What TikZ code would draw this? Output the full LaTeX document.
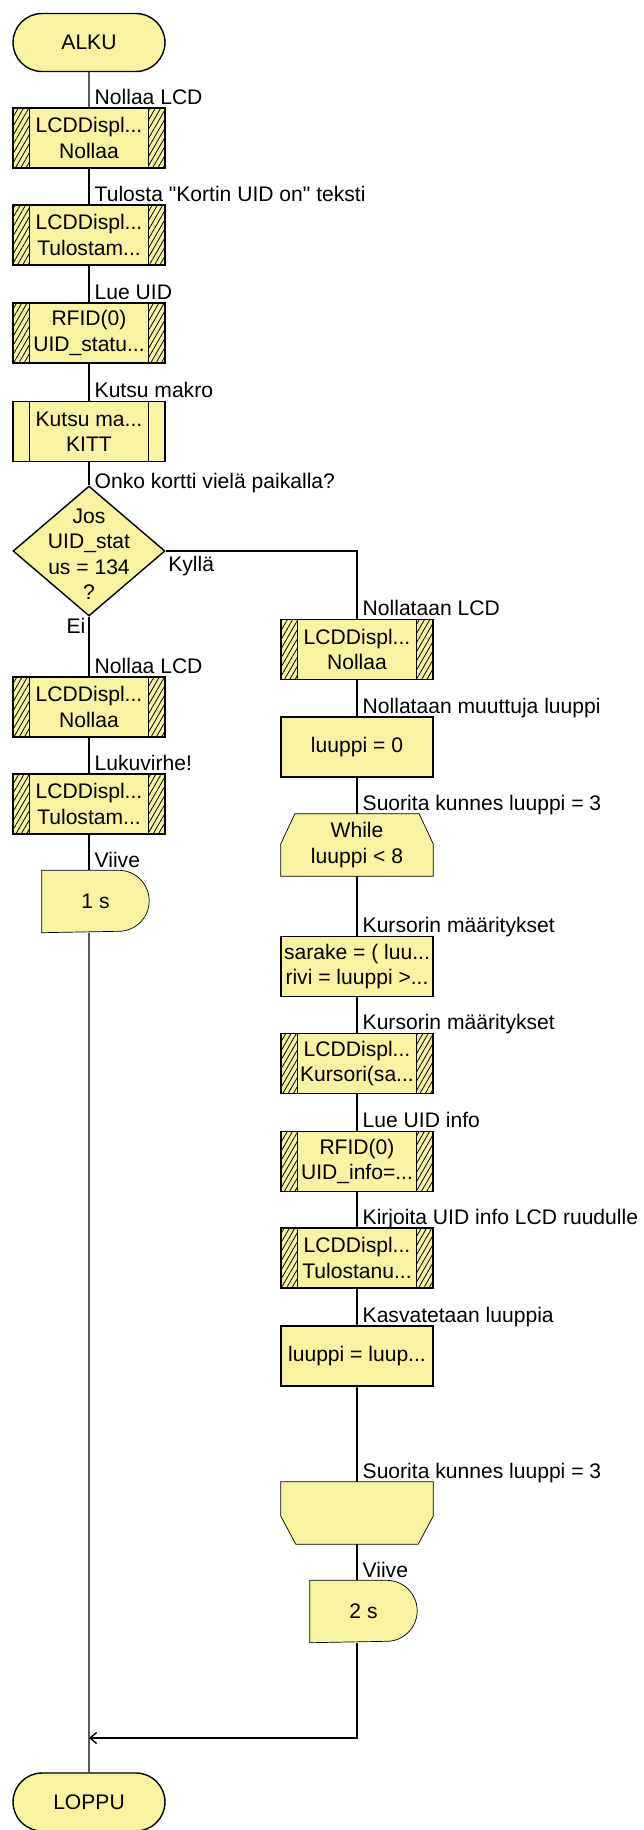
\documentclass[tikz,border=0pt]{standalone}
\usepackage{fontspec}
\setmainfont{Liberation Sans}
\usetikzlibrary{arrows.meta,shapes.geometric,shapes.misc,patterns.meta,backgrounds}
\usepackage{xcolor}
\definecolor{fcyellow}{HTML}{F7F3A0}
\newcommand{\fcfont}{\fontsize{12}{14.5}\selectfont}

\tikzset{
  box/.style={draw, line width=0.8pt, fill=fcyellow, minimum width=3.04cm,
    minimum height=1.2cm, inner sep=0pt, align=center, font=\fcfont},
  callbox/.style={box, path picture={
      \fill[pattern={Lines[angle=60,distance=2.6pt,line width=0.45pt]}]
      (path picture bounding box.north west) rectangle ([xshift=0.33cm]path picture bounding box.south west);
      \fill[pattern={Lines[angle=60,distance=2.6pt,line width=0.45pt]}]
      (path picture bounding box.north east) rectangle ([xshift=-0.33cm]path picture bounding box.south east);
      \draw[line width=0.8pt] ([xshift=0.33cm]path picture bounding box.north west) -- ([xshift=0.33cm]path picture bounding box.south west);
      \draw[line width=0.8pt] ([xshift=-0.33cm]path picture bounding box.north east) -- ([xshift=-0.33cm]path picture bounding box.south east);
    }},
  macrobox/.style={box, path picture={
      \draw[line width=0.8pt] ([xshift=0.33cm]path picture bounding box.north west) -- ([xshift=0.33cm]path picture bounding box.south west);
      \draw[line width=0.8pt] ([xshift=-0.33cm]path picture bounding box.north east) -- ([xshift=-0.33cm]path picture bounding box.south east);
    }},
  term/.style={box, rounded rectangle, minimum width=3.04cm, minimum height=1.16cm},
  decision/.style={box, diamond, minimum width=3.04cm, minimum height=2.6cm},
  txt/.style={inner sep=0pt, align=center, font=\fcfont},
  delaybox/.style={txt, minimum width=2.12cm, minimum height=1.22cm},
  loopbox/.style={txt, minimum width=3.02cm, minimum height=1.22cm},
  lbl/.style={anchor=base west, inner sep=0pt, font=\fcfont}
}

\begin{document}
\begin{tikzpicture}[x=0.02cm, y=-0.02cm, line width=0.8pt]
	\useasboundingbox (0,0) rectangle (644,1830);
	\coordinate (colL) at (89,0);
	\coordinate (colR) at (357,0);

	% left column: main program
	\node[term] (alku) at (89,42.5) {ALKU};
	\node[callbox] (l1) at (89,138) {LCDDispl...\\Nollaa};
	\node[callbox] (l2) at (89,235) {LCDDispl...\\Tulostam...};
	\node[callbox] (l3) at (89,333) {RFID(0)\\UID\_statu...};
	\node[macrobox] (l4) at (89,431.5) {Kutsu ma...\\KITT};
	\node[decision] (dec) at (89,551) {};
	\node[txt] (dectext) at (89,554) {Jos\\UID\_stat\\us = 134\\?};
	\node[callbox] (l5) at (89,707) {LCDDispl...\\Nollaa};
	\node[callbox] (l6) at (89,804) {LCDDispl...\\Tulostam...};
	\node[delaybox] (d1) at (95.5,901.5) {1 s};
	\node[term] (loppu) at (89,1802) {LOPPU};

	% right column: the loop
	\node[callbox] (r1) at (357,649.5) {LCDDispl...\\Nollaa};
	\node[box] (r2) at (357,747) {luuppi = 0};
	\node[loopbox] (whl) at (357,845) {While\\luuppi < 8};
	\node[box] (r4) at (357,966.5) {sarake = ( luu...\\rivi = luuppi >...};
	\node[callbox] (r5) at (357,1063.5) {LCDDispl...\\Kursori(sa...};
	\node[callbox] (r6) at (357,1161.5) {RFID(0)\\UID\_info=...};
	\node[callbox] (r7) at (357,1258) {LCDDispl...\\Tulostanu...};
	\node[box] (r8) at (357,1356) {luuppi = luup...};
	\node[loopbox] (endl) at (357,1513) {};
	\node[delaybox] (d2) at (363.5,1611.5) {2 s};
	\coordinate (mrg) at (89,1738);

	% outlines of the delay and loop shapes
	\begin{scope}[on background layer]
		\foreach \n in {d1,d2} {
				\draw[fill=fcyellow] (\n.north west) -- ([xshift=-0.61cm]\n.north east)
				arc[start angle=90, end angle=-90, radius=0.61cm] -- (\n.south west) -- cycle;
			}
		\draw[fill=fcyellow] ([yshift=-0.6cm]whl.north west) -- ([xshift=0.28cm]whl.north west)
		-- ([xshift=-0.28cm]whl.north east) -- ([yshift=-0.6cm]whl.north east)
		-- (whl.south east) -- (whl.south west) -- cycle;
		\draw[fill=fcyellow] (endl.north west) -- (endl.north east) -- ([yshift=0.56cm]endl.south east)
		-- ([xshift=-0.3cm]endl.south east) -- ([xshift=0.3cm]endl.south west)
		-- ([yshift=0.56cm]endl.south west) -- cycle;
	\end{scope}

	% connectors
	\foreach \a/\b in {alku/l1,l1/l2,l2/l3,l3/l4,l4/dec,dec/l5,l5/l6,
			r1/r2,r2/whl,whl/r4,r4/r5,r5/r6,r6/r7,r7/r8,r8/endl} {
			\draw (\a) -- (\b);
		}
	\draw (l6) -- (l6 |- d1.north);
	\draw (l6 |- d1.south) -- (loppu);
	\draw (dec) -| (r1);
	\draw (endl) -- (endl |- d2.north);
	\draw[-{Straight Barb[length=1.3mm,width=2.2mm]}] (endl |- d2.south) |- (mrg);

	% connector labels
	\foreach \b/\c/\t in {l1/colL/Nollaa LCD, l2/colL/Tulosta \textquotedbl Kortin UID on\textquotedbl{} teksti,
			l3/colL/Lue UID, l4/colL/Kutsu makro, l5/colL/Nollaa LCD, l6/colL/Lukuvirhe!,
			d1/colL/Viive, r1/colR/Nollataan LCD, r2/colR/Nollataan muuttuja luuppi,
			whl/colR/Suorita kunnes luuppi = 3, r4/colR/Kursorin määritykset,
			r5/colR/Kursorin määritykset, r6/colR/Lue UID info,
			r7/colR/Kirjoita UID info LCD ruudulle, r8/colR/Kasvatetaan luuppia,
			endl/colR/Suorita kunnes luuppi = 3, d2/colR/Viive} {
			\node[lbl] (lb-\b) at ([xshift=0.1cm,yshift=0.06cm]\b.north -| \c) {\t};
		}
	\node[lbl] (lb-dec) at ([xshift=0.1cm,yshift=-0.06cm]dec.north) {Onko kortti vielä paikalla?};
	\node[lbl, anchor=north west] (kylla) at ([xshift=0.04cm,yshift=-0.1cm]dec.east) {Kyllä};
	\node[lbl, anchor=north east] (ei) at ([xshift=-0.06cm,yshift=-0.02cm]dec.south) {Ei};
\end{tikzpicture}
\end{document}
